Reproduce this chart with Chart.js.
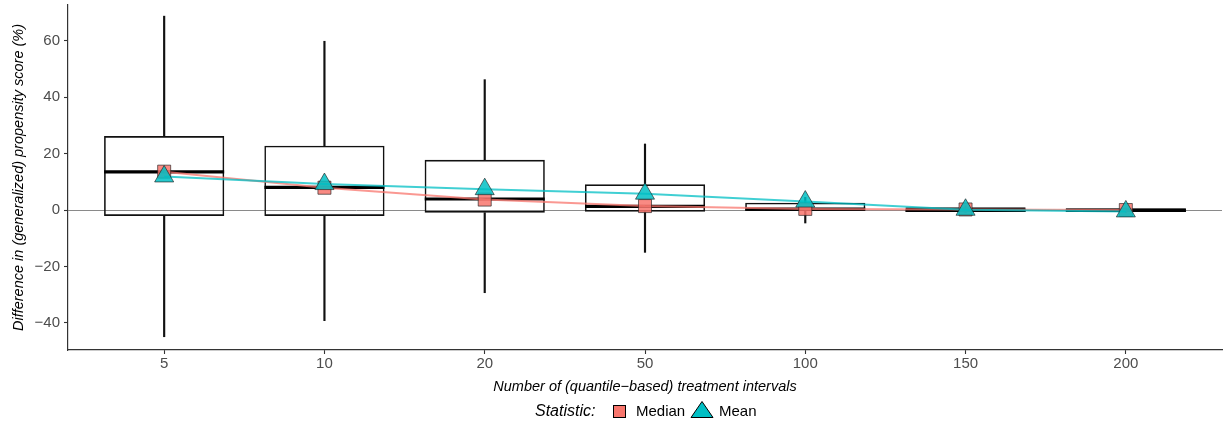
<!DOCTYPE html>
<html>
<head>
<meta charset="utf-8">
<script src="https://cdn.jsdelivr.net/npm/chart.js@4/dist/chart.umd.min.js"></script>
<style>
html,body{margin:0;padding:0;background:#fff;}
#wrap{position:relative;width:1226px;height:427px;overflow:hidden;}
#c{position:absolute;left:0;top:0;}
.lg{position:absolute;font-family:'Liberation Sans',Arial,Helvetica,sans-serif;color:#000;white-space:nowrap;}
</style>
</head>
<body>
<div id="wrap">
  <canvas id="c" width="1226" height="427"></canvas>
  <div class="lg" id="lgTitle" style="left:535px;top:403px;font-size:16px;line-height:16px;font-style:italic;"></div>
  <svg class="lg" style="left:612px;top:404px" width="16" height="16"><rect x="1.5" y="1.5" width="12" height="12" fill="#F8766D" stroke="#000" stroke-width="1"/></svg>
  <div class="lg" id="lgMedian" style="left:636px;top:403px;font-size:15px;line-height:15px;"></div>
  <svg class="lg" style="left:689px;top:400px" width="26" height="20"><polygon points="13,1.5 24,17.5 2,17.5" fill="#00BFC4" stroke="#000" stroke-width="1"/></svg>
  <div class="lg" id="lgMean" style="left:719px;top:403px;font-size:15px;line-height:15px;"></div>
</div>
<script>
// ---- data ----
const categories = ['5', '10', '20', '50', '100', '150', '200'];
const whiskerLow  = [-44.9, -39.2, -29.3, -15.0, -4.6, -1.0, -0.9];
const boxQ1       = [-2.1, -2.1, -0.95, -0.6, -0.35, -0.7, -0.7];
const boxMedian   = [13.5, 8.0, 3.9, 1.3, 0.3, -0.1, -0.1];
const boxQ3       = [26.2, 22.8, 17.8, 9.1, 2.6, 0.95, 0.6];
const whiskerHigh = [68.7, 59.8, 46.2, 23.4, 4.5, 1.5, 0.8];
const medianStat  = [13.6, 7.9, 3.7, 1.4, 0.4, 0.2, 0.0];
const meanStat    = [11.9, 9.2, 7.4, 5.8, 3.0, 0.1, -0.5];
const yTicks = [-40, -20, 0, 20, 40, 60];
const seriesNames = ['Median', 'Mean'];
const legendTitle = 'Statistic:';
const xTitle = 'Number of (quantile\u2212based) treatment intervals';
const yTitle = 'Difference in (generalized) propensity score (%)';

document.getElementById('lgTitle').textContent = legendTitle;
document.getElementById('lgMedian').textContent = seriesNames[0];
document.getElementById('lgMean').textContent = seriesNames[1];

Chart.defaults.font.family = "'Liberation Sans', Arial, Helvetica, sans-serif";

const pts = arr => arr.map((v, i) => ({x: i + 1, y: v}));
const rng = (a, b) => a.map((v, i) => ({x: i + 1, y: [v, b[i]]}));

new Chart(document.getElementById('c'), {
  type: 'bar',
  data: {
    datasets: [
      {type: 'bar', label: 'whiskerLow', data: rng(whiskerLow, boxQ1), backgroundColor: '#111', borderWidth: 0, barThickness: 1.5, grouped: false, order: 6},
      {type: 'bar', label: 'whiskerHigh', data: rng(boxQ3, whiskerHigh), backgroundColor: '#111', borderWidth: 0, barThickness: 1.5, grouped: false, order: 6},
      {type: 'bar', label: 'box', data: rng(boxQ1, boxQ3), backgroundColor: 'rgba(0,0,0,0)', borderColor: '#111', borderWidth: 1.6, borderSkipped: false, grouped: false, categoryPercentage: 1, barPercentage: 0.75, order: 5},
      {type: 'scatter', label: 'boxMedian', data: pts(boxMedian), pointStyle: 'line', pointRadius: 60, pointBorderColor: '#000', pointBorderWidth: 3.2, showLine: false, order: 4},
      {type: 'line', label: seriesNames[0], data: pts(medianStat), borderColor: 'rgba(248,118,109,0.75)', borderWidth: 2, tension: 0,
        pointStyle: 'rect', pointRadius: 9.2, pointBackgroundColor: 'rgba(248,118,109,0.85)', pointBorderColor: 'rgba(30,30,30,0.8)', pointBorderWidth: 0.8, order: 2},
      {type: 'line', label: seriesNames[1], data: pts(meanStat), borderColor: 'rgba(0,191,196,0.75)', borderWidth: 2, tension: 0,
        pointStyle: 'triangle', pointRadius: 11, pointBackgroundColor: 'rgba(0,191,196,0.85)', pointBorderColor: 'rgba(30,30,30,0.8)', pointBorderWidth: 0.8, order: 1}
    ]
  },
  options: {
    responsive: false,
    animation: false,
    events: [],
    layout: {padding: {left: 0, right: 4, top: 5, bottom: 30}, autoPadding: false},
    plugins: {legend: {display: false}, tooltip: {enabled: false}},
    scales: {
      x: {
        type: 'linear', min: 0.4, max: 7.6, offset: false,
        afterBuildTicks: s => { s.ticks = categories.map((c, i) => ({value: i + 1})); },
        afterFit: s => { s.height = 47; s.paddingLeft = 0; s.paddingRight = 0; },
        ticks: {callback: v => categories[Math.round(v) - 1], color: '#4d4d4d', font: {size: 15, lineHeight: 1}, padding: 2.5, maxRotation: 0, autoSkip: false},
        grid: {offset: false, drawOnChartArea: false, tickLength: 4, tickColor: '#333', tickWidth: 1.1},
        border: {color: '#333', width: 1.2},
        title: {display: true, text: xTitle, color: '#000', font: {size: 14.5, style: 'italic', lineHeight: 1.2}, padding: {top: 0, bottom: 1}}
      },
      y: {
        type: 'linear', min: -49.6, max: 72.65,
        afterBuildTicks: s => { s.ticks = yTicks.map(v => ({value: v})); },
        afterFit: s => { s.width = 68; s.paddingTop = 0; s.paddingBottom = 0; },
        ticks: {callback: v => v < 0 ? '\u2212' + Math.abs(v) : String(v), color: '#4d4d4d', font: {size: 15}, padding: 4},
        grid: {color: c => (c.tick && c.tick.value === 0) ? '#8a8a8a' : 'rgba(0,0,0,0)', lineWidth: 1, tickLength: 4, tickColor: '#333', tickWidth: 1.1},
        border: {color: '#333', width: 1.2},
        title: {display: true, text: yTitle, color: '#000', font: {size: 14.5, style: 'italic', lineHeight: 1.2}, padding: {top: 9.8, bottom: 0}}
      }
    }
  }
});
</script>
</body>
</html>
